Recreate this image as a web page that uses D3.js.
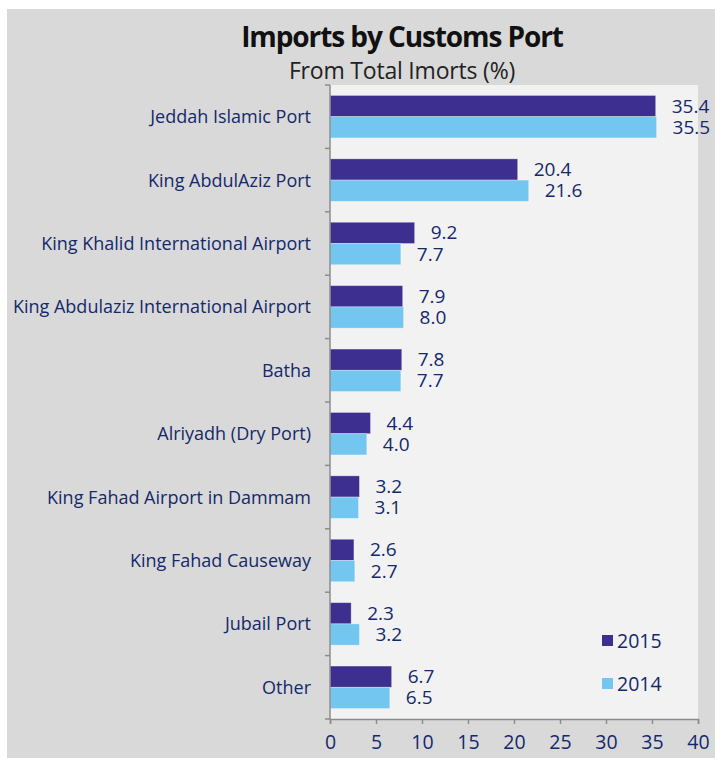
<!DOCTYPE html>
<html><head><meta charset="utf-8">
<script src="https://cdn.jsdelivr.net/npm/d3@7"></script>
<style>body{margin:0;background:#fff}svg{display:block}text{font-family:"Open Sans",Lato,sans-serif}</style>
</head><body><svg id="c" width="715" height="758"></svg>
<script>
const categories = ["Jeddah Islamic Port","King AbdulAziz Port","King Khalid International Airport","King Abdulaziz International Airport","Batha","Alriyadh (Dry Port)","King Fahad Airport in Dammam","King Fahad Causeway","Jubail Port","Other"];
const values2015 = [35.4,20.4,9.2,7.9,7.8,4.4,3.2,2.6,2.3,6.7];
const values2014 = [35.5,21.6,7.7,8.0,7.7,4.0,3.1,2.7,3.2,6.5];
const seriesNames = ["2015","2014"];
const xTicks = [0,5,10,15,20,25,30,35,40];

const svg = d3.select("#c");
const navy = "#14296b";
const colors = {"2015":"#3d2f8f","2014":"#72c6ef"};
svg.append("rect").attr("x",7).attr("y",9).attr("width",708).attr("height",749).attr("fill","#d9d9d9");

const pL=330,pR=698,pT=85,pB=719;
svg.append("rect").attr("x",pL).attr("y",pT).attr("width",pR-pL).attr("height",pB-pT).attr("fill","#f2f2f2");

const x = d3.scaleLinear().domain([0,40]).range([pL,pR]);
const y = d3.scaleBand().domain(categories).range([pT,pB]).paddingInner(0.33).paddingOuter(0.165);
const sub = d3.scaleBand().domain(seriesNames).range([0,y.bandwidth()]);

svg.append("text").attr("x",402).attr("y",47).attr("text-anchor","middle").attr("font-size",28).attr("font-weight","bold").attr("letter-spacing",-1.1).attr("fill","#111").text("Imports by Customs Port");
svg.append("text").attr("x",402).attr("y",79).attr("text-anchor","middle").attr("font-size",23).attr("letter-spacing",-0.2).attr("fill","#222").text("From Total Imorts (%)");

const rows = categories.map((c,i)=>({c, v:{"2015":values2015[i],"2014":values2014[i]}}));
const g = svg.append("g");
seriesNames.forEach(s=>{
  g.selectAll(null).data(rows).join("rect")
    .attr("x",x(0)).attr("y",d=>y(d.c)+sub(s)).attr("width",d=>x(d.v[s])-x(0)).attr("height",sub.bandwidth())
    .attr("fill",colors[s]).attr("stroke","#fff").attr("stroke-opacity",0.4).attr("stroke-width",0.8);
  g.selectAll(null).data(rows).join("text")
    .attr("x",d=>x(d.v[s])+16).attr("y",d=>y(d.c)+sub(s)+sub.bandwidth()/2+6.5)
    .attr("font-size",19).attr("fill",navy).text(d=>d.v[s].toFixed(1));
});

// y axis
const yAxisG = svg.append("g");
yAxisG.append("line").attr("x1",pL).attr("x2",pL).attr("y1",pT).attr("y2",pB).attr("stroke","#8c8c8c").attr("stroke-width",1.5);
const boundaries = d3.range(categories.length+1).map(i=>pT+i*(pB-pT)/categories.length);
yAxisG.selectAll(null).data(boundaries).join("line").attr("x1",pL-5).attr("x2",pL).attr("y1",d=>d).attr("y2",d=>d).attr("stroke","#8c8c8c").attr("stroke-width",1.5);
yAxisG.selectAll(null).data(categories).join("text").attr("x",311).attr("y",d=>y(d)+y.bandwidth()/2+6.5)
  .attr("text-anchor","end").attr("font-size",18).attr("fill",navy).text(d=>d);

// x axis
const xAxis = svg.append("g").attr("transform",`translate(0,${pB})`).call(d3.axisBottom(x).tickValues(xTicks).tickSize(5).tickPadding(11).tickFormat(d3.format("d")));
xAxis.select(".domain").attr("stroke","#8c8c8c").attr("stroke-width",1.5);
xAxis.selectAll(".tick line").attr("stroke","#8c8c8c").attr("stroke-width",1.5);
xAxis.selectAll(".tick text").attr("font-size",19.5).attr("fill",navy).attr("font-family","'Open Sans',sans-serif");

// legend
seriesNames.forEach((s,i)=>{
  const ly = 635+i*43;
  svg.append("rect").attr("x",602).attr("y",ly).attr("width",11).attr("height",11).attr("fill",colors[s]);
  svg.append("text").attr("x",617).attr("y",ly+13).attr("font-size",19.5).attr("fill",navy).text(s);
});
</script></body></html>
